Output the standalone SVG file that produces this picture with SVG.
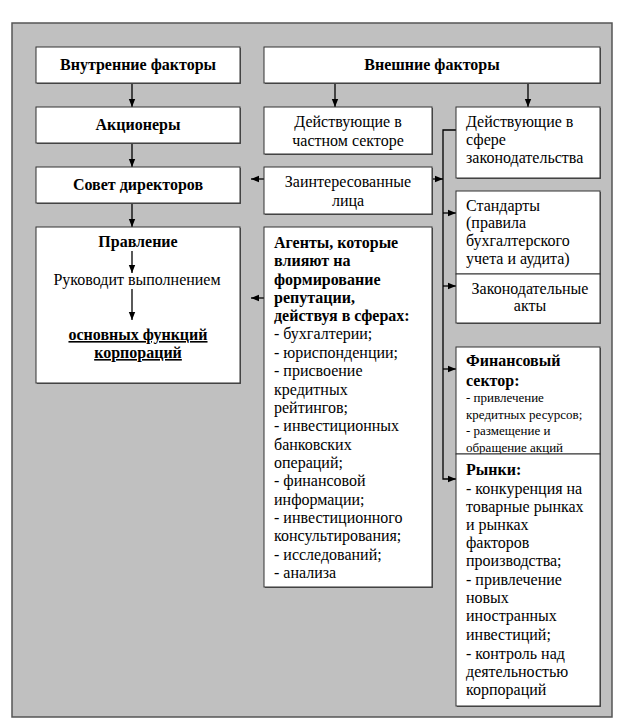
<svg xmlns="http://www.w3.org/2000/svg" width="624" height="719" viewBox="0 0 624 719">
<defs>
<marker id="ah" viewBox="0 0 10 10" refX="10" refY="5" markerWidth="8" markerHeight="8" markerUnits="userSpaceOnUse" orient="auto">
<path d="M0,1 L10,5 L0,9 Z" fill="#000"/>
</marker>
<clipPath id="clipFin"><rect x="456" y="347" width="144" height="107"/></clipPath>
</defs>
<rect x="12" y="23" width="600" height="694" fill="#c0c0c0" stroke="#555" stroke-width="1.5"/>

<g id="connectors" stroke="#000" stroke-width="1.3" fill="none">
<line x1="132" y1="83" x2="132" y2="107" marker-end="url(#ah)"/>
<line x1="132" y1="143" x2="132" y2="167" marker-end="url(#ah)"/>
<line x1="132" y1="203" x2="132" y2="227" marker-end="url(#ah)"/>
<line x1="335" y1="83" x2="335" y2="107" marker-end="url(#ah)"/>
<line x1="528" y1="83" x2="528" y2="107" marker-end="url(#ah)"/>
<line x1="264" y1="179" x2="251" y2="179" marker-end="url(#ah)"/>
<line x1="264" y1="298" x2="251" y2="298" marker-end="url(#ah)"/>
<line x1="432" y1="179" x2="443" y2="179" marker-end="url(#ah)"/>
<polyline points="456,130 443,130 443,479 456,479" marker-end="url(#ah)"/>
<line x1="443" y1="213" x2="456" y2="213" marker-end="url(#ah)"/>
<line x1="443" y1="286" x2="456" y2="286" marker-end="url(#ah)"/>
<line x1="443" y1="369" x2="456" y2="369" marker-end="url(#ah)"/>
</g>

<g id="nodes" fill="#000" font-size="16">
<g id="n-vnutr">
<rect fill="#555" x="37" y="48" width="204" height="36"/>
<rect fill="#fff" stroke="#333" x="36" y="47" width="204" height="36"/>
<text font-family="Liberation Serif" font-weight="bold" text-anchor="middle" x="138" y="70">Внутренние факторы</text>
</g>
<g id="n-vnesh">
<rect fill="#555" x="265" y="48" width="336" height="36"/>
<rect fill="#fff" stroke="#333" x="264" y="47" width="336" height="36"/>
<text font-family="Liberation Serif" font-weight="bold" text-anchor="middle" x="432" y="70">Внешние факторы</text>
</g>
<g id="n-akc">
<rect fill="#555" x="37" y="108" width="204" height="36"/>
<rect fill="#fff" stroke="#333" x="36" y="107" width="204" height="36"/>
<text font-family="Liberation Serif" font-weight="bold" text-anchor="middle" x="138" y="130">Акционеры</text>
</g>
<g id="n-sovet">
<rect fill="#555" x="37" y="168" width="204" height="36"/>
<rect fill="#fff" stroke="#333" x="36" y="167" width="204" height="36"/>
<text font-family="Liberation Serif" font-weight="bold" text-anchor="middle" x="138" y="190">Совет директоров</text>
</g>
<g id="n-pravl">
<rect fill="#555" x="37" y="228" width="204" height="156"/>
<rect fill="#fff" stroke="#333" x="36" y="227" width="204" height="156"/>
<text font-family="Liberation Serif" font-weight="bold" text-anchor="middle" x="138" y="247">Правление</text>
<line stroke="#000" stroke-width="1.3" x1="132" y1="251" x2="132" y2="273" marker-end="url(#ah)"/>
<text font-family="Liberation Serif" text-anchor="middle" x="137" y="285">Руководит выполнением</text>
<line stroke="#000" stroke-width="1.3" x1="132" y1="289" x2="132" y2="320" marker-end="url(#ah)"/>
<text font-family="Liberation Serif" font-weight="bold" text-anchor="middle" x="138" y="340" text-decoration="underline">основных функций</text>
<text font-family="Liberation Serif" font-weight="bold" text-anchor="middle" x="138" y="358" text-decoration="underline">корпораций</text>
</g>
<g id="n-chast">
<rect fill="#555" x="265" y="108" width="168" height="47"/>
<rect fill="#fff" stroke="#333" x="264" y="107" width="168" height="47"/>
<text font-family="Liberation Serif" text-anchor="middle" x="348" y="127">Действующие в</text>
<text font-family="Liberation Serif" text-anchor="middle" x="348" y="146">частном секторе</text>
</g>
<g id="n-zaint">
<rect fill="#555" x="265" y="168" width="168" height="47"/>
<rect fill="#fff" stroke="#333" x="264" y="167" width="168" height="47"/>
<text font-family="Liberation Serif" text-anchor="middle" x="348" y="187">Заинтересованные</text>
<text font-family="Liberation Serif" text-anchor="middle" x="348" y="206">лица</text>
</g>
<g id="n-agenty">
<rect fill="#555" x="265" y="228" width="168" height="360"/>
<rect fill="#fff" stroke="#333" x="264" y="227" width="168" height="360"/>
<text font-family="Liberation Serif" font-weight="bold" x="274" y="248">Агенты, которые</text>
<text font-family="Liberation Serif" font-weight="bold" x="274" y="266">влияют на</text>
<text font-family="Liberation Serif" font-weight="bold" x="274" y="285">формирование</text>
<text font-family="Liberation Serif" font-weight="bold" x="274" y="303">репутации,</text>
<text font-family="Liberation Serif" font-weight="bold" x="274" y="321">действуя в сферах:</text>
<text font-family="Liberation Serif" x="274" y="339">- бухгалтерии;</text>
<text font-family="Liberation Serif" x="274" y="358">- юриспонденции;</text>
<text font-family="Liberation Serif" x="274" y="376">- присвоение</text>
<text font-family="Liberation Serif" x="274" y="395">кредитных</text>
<text font-family="Liberation Serif" x="274" y="413">рейтингов;</text>
<text font-family="Liberation Serif" x="274" y="431">- инвестиционных</text>
<text font-family="Liberation Serif" x="274" y="450">банковских</text>
<text font-family="Liberation Serif" x="274" y="468">операций;</text>
<text font-family="Liberation Serif" x="274" y="486">- финансовой</text>
<text font-family="Liberation Serif" x="274" y="505">информации;</text>
<text font-family="Liberation Serif" x="274" y="523">- инвестиционного</text>
<text font-family="Liberation Serif" x="274" y="541">консультирования;</text>
<text font-family="Liberation Serif" x="274" y="560">- исследований;</text>
<text font-family="Liberation Serif" x="274" y="578">- анализа</text>
</g>
<g id="n-zakon">
<rect fill="#555" x="457" y="108" width="144" height="71"/>
<rect fill="#fff" stroke="#333" x="456" y="107" width="144" height="71"/>
<text font-family="Liberation Serif" x="466" y="127">Действующие в</text>
<text font-family="Liberation Serif" x="466" y="145">сфере</text>
<text font-family="Liberation Serif" x="466" y="163">законодательства</text>
</g>
<g id="n-stand">
<rect fill="#555" x="457" y="192" width="144" height="83"/>
<rect fill="#fff" stroke="#333" x="456" y="191" width="144" height="83"/>
<text font-family="Liberation Serif" x="466" y="211">Стандарты</text>
<text font-family="Liberation Serif" x="466" y="228">(правила</text>
<text font-family="Liberation Serif" x="466" y="246">бухгалтерского</text>
<text font-family="Liberation Serif" x="466" y="264">учета и аудита)</text>
</g>
<g id="n-akty">
<rect fill="#555" x="457" y="275" width="144" height="49"/>
<rect fill="#fff" stroke="#333" x="456" y="274" width="144" height="49"/>
<text font-family="Liberation Serif" text-anchor="middle" x="530" y="294">Законодательные</text>
<text font-family="Liberation Serif" text-anchor="middle" x="530" y="311">акты</text>
</g>
<g id="n-fin">
<rect fill="#555" x="457" y="348" width="144" height="107"/>
<rect fill="#fff" stroke="#333" x="456" y="347" width="144" height="107"/>
<g clip-path="url(#clipFin)">
<text font-family="Liberation Serif" font-weight="bold" x="466" y="366">Финансовый</text>
<text font-family="Liberation Serif" font-weight="bold" x="466" y="386">сектор:</text>
<text font-family="Liberation Serif" font-size="13" x="466" y="402">- привлечение</text>
<text font-family="Liberation Serif" font-size="13" x="466" y="419">кредитных ресурсов;</text>
<text font-family="Liberation Serif" font-size="13" x="466" y="435">- размещение и</text>
<text font-family="Liberation Serif" font-size="13" x="466" y="452">обращение акций</text>
</g>
</g>
<g id="n-rynki">
<rect fill="#555" x="457" y="455" width="144" height="252"/>
<rect fill="#fff" stroke="#333" x="456" y="454" width="144" height="252"/>
<text font-family="Liberation Serif" font-weight="bold" x="466" y="475">Рынки:</text>
<text font-family="Liberation Serif" x="466" y="494">- конкуренция на</text>
<text font-family="Liberation Serif" x="466" y="512">товарные рынках</text>
<text font-family="Liberation Serif" x="466" y="530">и рынках</text>
<text font-family="Liberation Serif" x="466" y="548">факторов</text>
<text font-family="Liberation Serif" x="466" y="566">производства;</text>
<text font-family="Liberation Serif" x="466" y="585">- привлечение</text>
<text font-family="Liberation Serif" x="466" y="603">новых</text>
<text font-family="Liberation Serif" x="466" y="621">иностранных</text>
<text font-family="Liberation Serif" x="466" y="640">инвестиций;</text>
<text font-family="Liberation Serif" x="466" y="659">- контроль над</text>
<text font-family="Liberation Serif" x="466" y="677">деятельностью</text>
<text font-family="Liberation Serif" x="466" y="695">корпораций</text>
</g>
</g>
</svg>
